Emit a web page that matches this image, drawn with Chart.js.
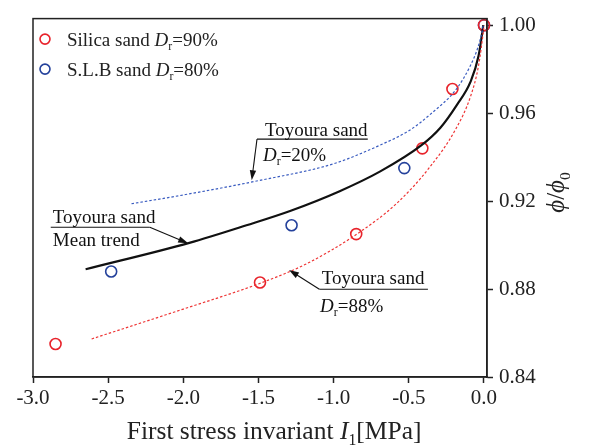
<!DOCTYPE html>
<html>
<head>
<meta charset="utf-8">
<script src="https://cdn.jsdelivr.net/npm/chart.js@4"></script>
<style>
  html, body { margin: 0; padding: 0; background: #fff; }
  canvas { display: block; }
</style>
</head>
<body>
<canvas id="chart" width="589" height="448"></canvas>
<script>
// measured points
const silicaI1 = [-2.85, -1.49, -0.85, -0.41, -0.21, 0.0];
const silicaPhi = [0.855, 0.883, 0.905, 0.944, 0.971, 1.0];
const slbI1 = [-2.48, -1.28, -0.53, 0.0];
const slbPhi = [0.888, 0.909, 0.935, 1.0];

// Toyoura sand curves
const meanI1 = [-2.65, -1.96, -1.58, -1.29, -0.96, -0.69, -0.42, -0.29, -0.18, -0.09, -0.036, -0.009, -0.005];
const meanPhi = [0.889, 0.901, 0.909, 0.9155, 0.9245, 0.9335, 0.9452, 0.9534, 0.9638, 0.9742, 0.9861, 0.998, 1.0];
const loose20I1 = [-2.345, -2.0, -1.5, -1.0, -0.69, -0.5, -0.36, -0.18, -0.09, -0.04, -0.013, -0.005];
const loose20Phi = [0.9188, 0.9228, 0.9293, 0.937, 0.9455, 0.952, 0.9593, 0.9713, 0.9817, 0.990, 0.997, 1.0];
const dense88I1 = [-2.61, -2.0, -1.49, -1.18, -0.85, -0.58, -0.36, -0.19, -0.09, -0.036, -0.003, 0];
const dense88Phi = [0.8573, 0.8709, 0.8826, 0.8915, 0.9048, 0.919, 0.9355, 0.9525, 0.9675, 0.9817, 0.998, 1.0];

const xTicks = [-3.0, -2.5, -2.0, -1.5, -1.0, -0.5, 0.0];
const yTicks = [0.84, 0.88, 0.92, 0.96, 1.00];

const SERIF = '"Liberation Serif", "Times New Roman", serif';
const RED = '#e8232b';
const BLUE = '#24419b';

const pts = (xs, ys) => xs.map((x, i) => ({ x: x, y: ys[i] }));

function curve(xs, ys, color, dash, width) {
  return {
    data: pts(xs, ys),
    showLine: true,
    borderColor: color,
    borderWidth: width,
    borderDash: dash,
    pointRadius: 0,
    cubicInterpolationMode: 'monotone',
    fill: false
  };
}

function markers(xs, ys, color) {
  return {
    data: pts(xs, ys),
    showLine: false,
    pointStyle: 'circle',
    pointRadius: 5.5,
    pointBorderWidth: 1.6,
    pointBorderColor: color,
    pointBackgroundColor: 'rgba(0,0,0,0)',
    clip: false
  };
}

// text with italic / subscript pieces
function drawRich(ctx, parts, x, y, size) {
  let cx = x;
  parts.forEach(p => {
    const fs = p.sub ? size * 0.62 : size;
    ctx.font = (p.it ? 'italic ' : '') + fs + 'px ' + SERIF;
    ctx.fillText(p.t, cx, y + (p.sub ? size * 0.24 : 0));
    cx += ctx.measureText(p.t).width;
  });
  return cx;
}

function arrow(ctx, x1, y1, x2, y2) {
  const a = Math.atan2(y2 - y1, x2 - x1);
  const len = 10, half = 3.2;
  ctx.beginPath();
  ctx.moveTo(x1, y1);
  ctx.lineTo(x2 - Math.cos(a) * len * 0.8, y2 - Math.sin(a) * len * 0.8);
  ctx.stroke();
  ctx.beginPath();
  ctx.moveTo(x2, y2);
  ctx.lineTo(x2 - Math.cos(a) * len - Math.sin(a) * half, y2 - Math.sin(a) * len + Math.cos(a) * half);
  ctx.lineTo(x2 - Math.cos(a) * len + Math.sin(a) * half, y2 - Math.sin(a) * len - Math.cos(a) * half);
  ctx.closePath();
  ctx.fill();
}

const dr = v => [{ t: 'D', it: true }, { t: 'r', sub: true }, { t: '=' + v }];

const decorations = {
  id: 'decorations',
  afterDraw(chart) {
    const ctx = chart.ctx;
    const a = chart.chartArea;
    const xs = chart.scales.x, ys = chart.scales.y;
    const X = v => xs.getPixelForValue(v), Y = v => ys.getPixelForValue(v);
    ctx.save();
    ctx.strokeStyle = '#222';
    ctx.lineWidth = 1.5;
    ctx.strokeRect(a.left, a.top, a.right - a.left, a.bottom - a.top);

    ctx.fillStyle = '#222';
    ctx.textBaseline = 'alphabetic';
    ctx.textAlign = 'left';

    // legend
    const legend = [
      { color: RED, parts: [{ t: 'Silica sand ' }].concat(dr('90%')) },
      { color: BLUE, parts: [{ t: 'S.L.B sand ' }].concat(dr('80%')) }
    ];
    legend.forEach((item, i) => {
      const cy = a.top + 20.5 + i * 30;
      ctx.beginPath();
      ctx.arc(a.left + 12, cy, 5, 0, Math.PI * 2);
      ctx.strokeStyle = item.color;
      ctx.lineWidth = 1.6;
      ctx.stroke();
      ctx.fillStyle = '#222';
      drawRich(ctx, item.parts, a.left + 34, cy + 6.7, 19);
    });

    ctx.strokeStyle = '#111';
    ctx.fillStyle = '#111';
    ctx.lineWidth = 1.1;

    // Toyoura sand, Dr = 20%
    let tx = X(-1.545), ty = Y(0.9295);
    let ex = X(-1.51), ey = Y(0.9482);
    arrow(ctx, ex, ey, tx, ty);
    ctx.beginPath(); ctx.moveTo(ex, ey); ctx.lineTo(X(-0.773), ey); ctx.stroke();
    drawRich(ctx, [{ t: 'Toyoura sand' }], ex + 8, ey - 3.3, 19);
    drawRich(ctx, dr('20%'), ex + 6, ey + 21.7, 19);

    // Toyoura sand, mean trend
    tx = X(-1.968); ty = Y(0.9008);
    ex = X(-2.223); ey = Y(0.9081);
    arrow(ctx, ex, ey, tx, ty);
    ctx.beginPath(); ctx.moveTo(X(-2.882), ey); ctx.lineTo(ex, ey); ctx.stroke();
    drawRich(ctx, [{ t: 'Toyoura sand' }], ex - 97, ey - 4.7, 19);
    drawRich(ctx, [{ t: 'Mean trend' }], ex - 97, ey + 18.6, 19);

    // Toyoura sand, Dr = 88%
    tx = X(-1.297); ty = Y(0.8887);
    ex = X(-1.095); ey = Y(0.8799);
    arrow(ctx, ex, ey, tx, ty);
    ctx.beginPath(); ctx.moveTo(ex, ey); ctx.lineTo(X(-0.373), ey); ctx.stroke();
    drawRich(ctx, [{ t: 'Toyoura sand' }], ex + 2.4, ey - 5.4, 19);
    drawRich(ctx, dr('88%'), ex + 0.7, ey + 22.3, 19);

    // axis titles
    ctx.fillStyle = '#222';
    drawRich(ctx, [
      { t: 'First stress invariant ' }, { t: 'I', it: true }, { t: '1', sub: true }, { t: '[MPa]' }
    ], 126.7, 438.5, 25.5);

    ctx.translate(a.right + 77, (a.top + a.bottom) / 2 + 15);
    ctx.rotate(-Math.PI / 2);
    drawRich(ctx, [{ t: 'ϕ', it: true }, { t: '/' }, { t: 'ϕ', it: true }, { t: '0', sub: true }], 0, 0, 25);
    ctx.restore();
  }
};

const axisGrid = {
  display: true,
  drawOnChartArea: false,
  drawTicks: true,
  tickLength: 6,
  tickColor: '#222',
  tickWidth: 1.5
};

new Chart(document.getElementById('chart').getContext('2d'), {
  type: 'scatter',
  data: {
    datasets: [
      curve(loose20I1, loose20Phi, '#3a5cc0', [2.5, 2], 1.2),
      curve(dense88I1, dense88Phi, '#ee3535', [2.5, 2], 1.2),
      curve(meanI1, meanPhi, '#111', [], 2.2),
      markers(silicaI1, silicaPhi, RED),
      markers(slbI1, slbPhi, BLUE)
    ]
  },
  options: {
    responsive: false,
    animation: false,
    layout: { padding: { left: 33, top: 13, right: 0, bottom: 0 } },
    plugins: { legend: { display: false }, tooltip: { enabled: false } },
    scales: {
      x: {
        type: 'linear',
        min: -3,
        max: 0.02,
        afterBuildTicks: s => { s.ticks = xTicks.map(v => ({ value: v })); },
        afterFit: s => { s.height = 71; },
        grid: axisGrid,
        border: { display: true, color: '#222', width: 1.5 },
        ticks: {
          padding: 3,
          color: '#222',
          font: { family: SERIF, size: 21 },
          maxRotation: 0,
          callback: v => v.toFixed(1)
        }
      },
      y: {
        position: 'right',
        min: 0.84,
        max: 1.003,
        afterBuildTicks: s => { s.ticks = yTicks.map(v => ({ value: v })); },
        afterFit: s => { s.width = 102; },
        grid: axisGrid,
        border: { display: true, color: '#222', width: 1.5 },
        ticks: {
          padding: 6,
          color: '#222',
          font: { family: SERIF, size: 21 },
          callback: v => v.toFixed(2)
        }
      }
    }
  },
  plugins: [decorations]
});
</script>
</body>
</html>
